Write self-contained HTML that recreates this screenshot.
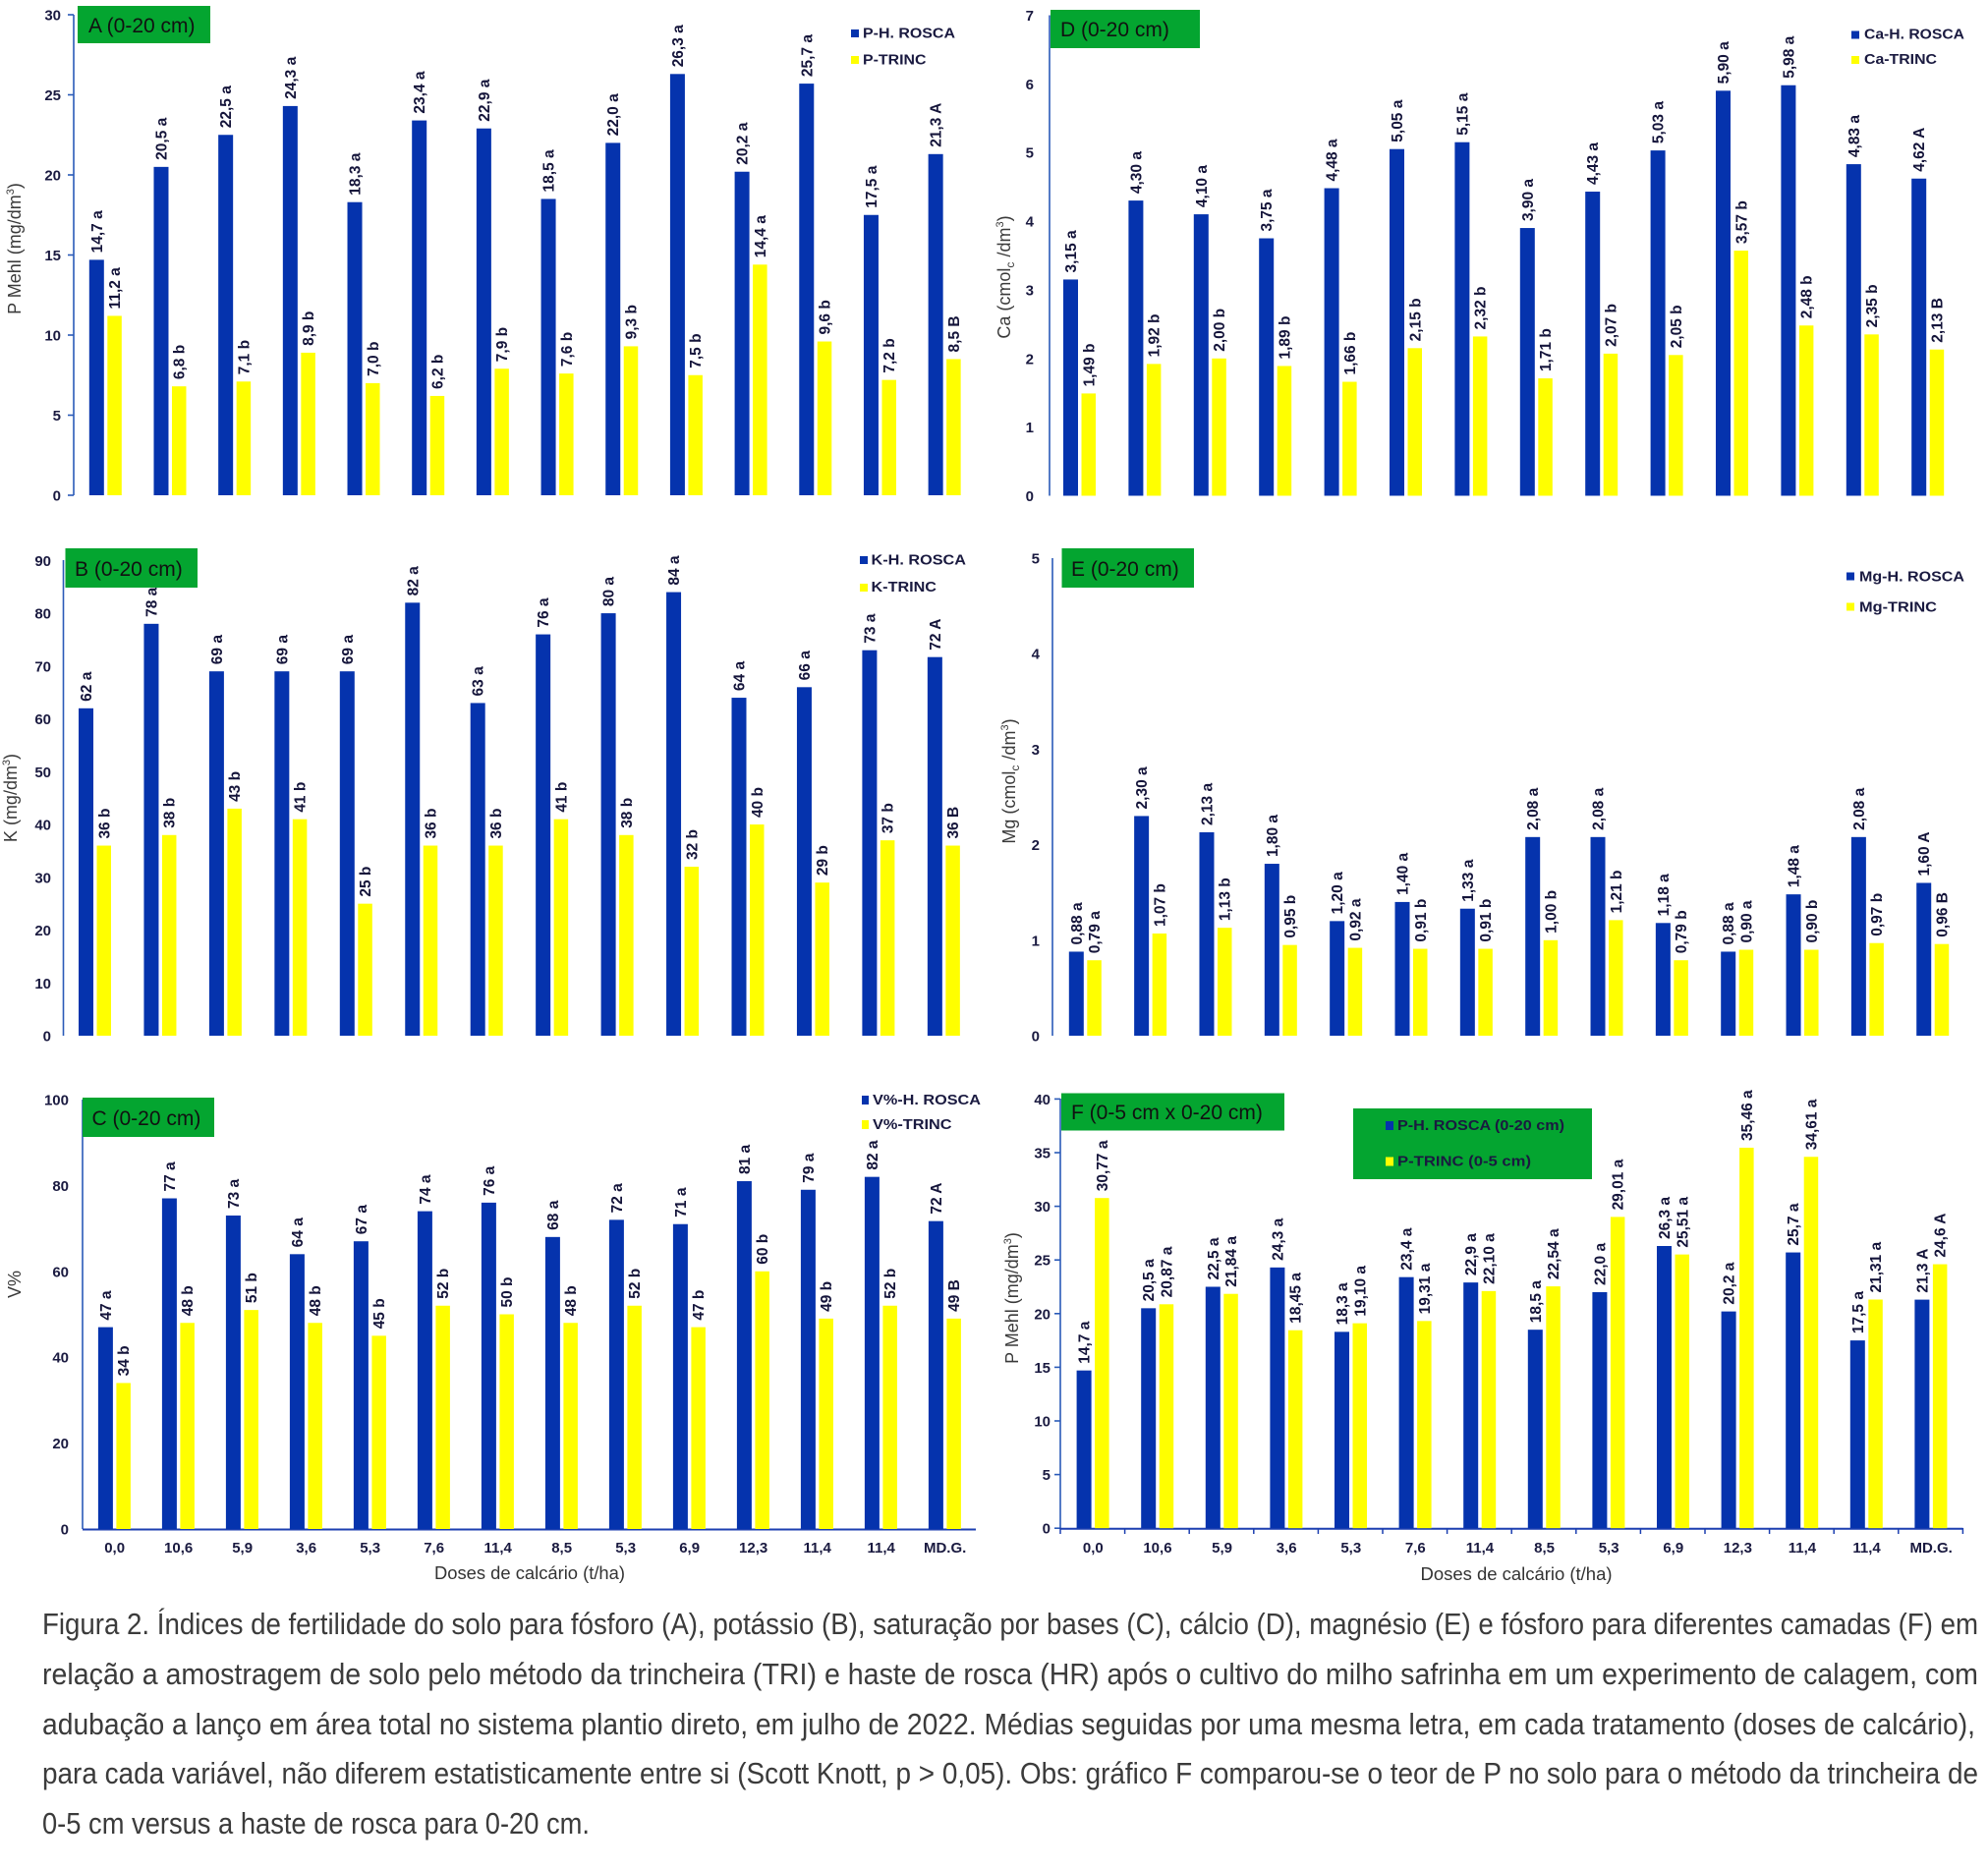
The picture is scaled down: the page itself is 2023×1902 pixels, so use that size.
<!DOCTYPE html>
<html><head><meta charset="utf-8">
<style>
html,body{margin:0;padding:0;background:#fff;}
svg{display:block;}
.b{fill:#0533ad;}
.y{fill:#ffff00;}
.v{font-family:"Liberation Sans",Arial,sans-serif;font-weight:bold;font-size:15.5px;fill:#14143a;}
.tk{font-family:"Liberation Sans",Arial,sans-serif;font-weight:bold;font-size:15px;fill:#1a1a40;text-anchor:end;}
.xl{font-family:"Liberation Sans",Arial,sans-serif;font-weight:bold;font-size:15px;fill:#1a1a40;text-anchor:middle;}
.lg{font-family:"Liberation Sans",Arial,sans-serif;font-weight:bold;font-size:14.5px;fill:#1a1a40;}
.tt{font-family:"Liberation Sans",Arial,sans-serif;font-size:21px;fill:#111;}
.yt{font-family:"Liberation Sans",Arial,sans-serif;font-size:18px;fill:#3a3a3a;text-anchor:middle;}
.at{font-family:"Liberation Sans Narrow","Liberation Sans",Arial,sans-serif;font-size:18px;fill:#333;}
.cap{font-family:"Liberation Sans Narrow","Liberation Sans",Arial,sans-serif;font-size:31px;fill:#3b3b3b;}
.ax{stroke:#2a5ab8;stroke-width:1.6;fill:none;}
.box{fill:#04a530;}
</style></head>
<body>
<svg width="2023" height="1902" viewBox="0 0 2023 1902" xmlns="http://www.w3.org/2000/svg">
<rect width="2023" height="1902" fill="#fff"/>

<!-- ================= CHART A ================= -->
<line class="ax" x1="75" y1="15" x2="75" y2="504"/>
<g class="ax"><line x1="69" y1="504" x2="75" y2="504"/><line x1="69" y1="422.5" x2="75" y2="422.5"/><line x1="69" y1="341" x2="75" y2="341"/><line x1="69" y1="259.5" x2="75" y2="259.5"/><line x1="69" y1="178" x2="75" y2="178"/><line x1="69" y1="96.5" x2="75" y2="96.5"/><line x1="69" y1="15" x2="75" y2="15"/></g>
<text class="tk" x="62" y="509.5">0</text><text class="tk" x="62" y="428">5</text><text class="tk" x="62" y="346.5">10</text><text class="tk" x="62" y="265">15</text><text class="tk" x="62" y="183.5">20</text><text class="tk" x="62" y="102">25</text><text class="tk" x="62" y="20.5">30</text>
<text class="yt" transform="translate(21,253) rotate(-90)">P Mehl (mg/dm<tspan font-size="11" dy="-7">3</tspan><tspan dy="7">)</tspan></text>
<g transform="translate(90.8,504)">
<g><g transform="scale(1,-16.3)"><rect class="b" width="15" height="14.7"/><rect class="y" x="18.5" width="14.5" height="11.2"/></g><text class="v" transform="translate(13,0) scale(1,-16.3) translate(0,14.7) scale(1,-0.06135) rotate(-90)" x="7">14,7 a</text><text class="v" transform="translate(31.25,0) scale(1,-16.3) translate(0,11.2) scale(1,-0.06135) rotate(-90)" x="7">11,2 a</text></g>
<g transform="translate(65.68,0)"><g transform="scale(1,-16.3)"><rect class="b" width="15" height="20.5"/><rect class="y" x="18.5" width="14.5" height="6.8"/></g><text class="v" transform="translate(13,0) scale(1,-16.3) translate(0,20.5) scale(1,-0.06135) rotate(-90)" x="7">20,5 a</text><text class="v" transform="translate(31.25,0) scale(1,-16.3) translate(0,6.8) scale(1,-0.06135) rotate(-90)" x="7">6,8 b</text></g>
<g transform="translate(131.36,0)"><g transform="scale(1,-16.3)"><rect class="b" width="15" height="22.5"/><rect class="y" x="18.5" width="14.5" height="7.1"/></g><text class="v" transform="translate(13,0) scale(1,-16.3) translate(0,22.5) scale(1,-0.06135) rotate(-90)" x="7">22,5 a</text><text class="v" transform="translate(31.25,0) scale(1,-16.3) translate(0,7.1) scale(1,-0.06135) rotate(-90)" x="7">7,1 b</text></g>
<g transform="translate(197.04,0)"><g transform="scale(1,-16.3)"><rect class="b" width="15" height="24.3"/><rect class="y" x="18.5" width="14.5" height="8.9"/></g><text class="v" transform="translate(13,0) scale(1,-16.3) translate(0,24.3) scale(1,-0.06135) rotate(-90)" x="7">24,3 a</text><text class="v" transform="translate(31.25,0) scale(1,-16.3) translate(0,8.9) scale(1,-0.06135) rotate(-90)" x="7">8,9 b</text></g>
<g transform="translate(262.72,0)"><g transform="scale(1,-16.3)"><rect class="b" width="15" height="18.3"/><rect class="y" x="18.5" width="14.5" height="7.0"/></g><text class="v" transform="translate(13,0) scale(1,-16.3) translate(0,18.3) scale(1,-0.06135) rotate(-90)" x="7">18,3 a</text><text class="v" transform="translate(31.25,0) scale(1,-16.3) translate(0,7.0) scale(1,-0.06135) rotate(-90)" x="7">7,0 b</text></g>
<g transform="translate(328.4,0)"><g transform="scale(1,-16.3)"><rect class="b" width="15" height="23.4"/><rect class="y" x="18.5" width="14.5" height="6.2"/></g><text class="v" transform="translate(13,0) scale(1,-16.3) translate(0,23.4) scale(1,-0.06135) rotate(-90)" x="7">23,4 a</text><text class="v" transform="translate(31.25,0) scale(1,-16.3) translate(0,6.2) scale(1,-0.06135) rotate(-90)" x="7">6,2 b</text></g>
<g transform="translate(394.08,0)"><g transform="scale(1,-16.3)"><rect class="b" width="15" height="22.9"/><rect class="y" x="18.5" width="14.5" height="7.9"/></g><text class="v" transform="translate(13,0) scale(1,-16.3) translate(0,22.9) scale(1,-0.06135) rotate(-90)" x="7">22,9 a</text><text class="v" transform="translate(31.25,0) scale(1,-16.3) translate(0,7.9) scale(1,-0.06135) rotate(-90)" x="7">7,9 b</text></g>
<g transform="translate(459.76,0)"><g transform="scale(1,-16.3)"><rect class="b" width="15" height="18.5"/><rect class="y" x="18.5" width="14.5" height="7.6"/></g><text class="v" transform="translate(13,0) scale(1,-16.3) translate(0,18.5) scale(1,-0.06135) rotate(-90)" x="7">18,5 a</text><text class="v" transform="translate(31.25,0) scale(1,-16.3) translate(0,7.6) scale(1,-0.06135) rotate(-90)" x="7">7,6 b</text></g>
<g transform="translate(525.44,0)"><g transform="scale(1,-16.3)"><rect class="b" width="15" height="22.0"/><rect class="y" x="18.5" width="14.5" height="9.3"/></g><text class="v" transform="translate(13,0) scale(1,-16.3) translate(0,22.0) scale(1,-0.06135) rotate(-90)" x="7">22,0 a</text><text class="v" transform="translate(31.25,0) scale(1,-16.3) translate(0,9.3) scale(1,-0.06135) rotate(-90)" x="7">9,3 b</text></g>
<g transform="translate(591.12,0)"><g transform="scale(1,-16.3)"><rect class="b" width="15" height="26.3"/><rect class="y" x="18.5" width="14.5" height="7.5"/></g><text class="v" transform="translate(13,0) scale(1,-16.3) translate(0,26.3) scale(1,-0.06135) rotate(-90)" x="7">26,3 a</text><text class="v" transform="translate(31.25,0) scale(1,-16.3) translate(0,7.5) scale(1,-0.06135) rotate(-90)" x="7">7,5 b</text></g>
<g transform="translate(656.8,0)"><g transform="scale(1,-16.3)"><rect class="b" width="15" height="20.2"/><rect class="y" x="18.5" width="14.5" height="14.4"/></g><text class="v" transform="translate(13,0) scale(1,-16.3) translate(0,20.2) scale(1,-0.06135) rotate(-90)" x="7">20,2 a</text><text class="v" transform="translate(31.25,0) scale(1,-16.3) translate(0,14.4) scale(1,-0.06135) rotate(-90)" x="7">14,4 a</text></g>
<g transform="translate(722.48,0)"><g transform="scale(1,-16.3)"><rect class="b" width="15" height="25.7"/><rect class="y" x="18.5" width="14.5" height="9.6"/></g><text class="v" transform="translate(13,0) scale(1,-16.3) translate(0,25.7) scale(1,-0.06135) rotate(-90)" x="7">25,7 a</text><text class="v" transform="translate(31.25,0) scale(1,-16.3) translate(0,9.6) scale(1,-0.06135) rotate(-90)" x="7">9,6 b</text></g>
<g transform="translate(788.16,0)"><g transform="scale(1,-16.3)"><rect class="b" width="15" height="17.5"/><rect class="y" x="18.5" width="14.5" height="7.2"/></g><text class="v" transform="translate(13,0) scale(1,-16.3) translate(0,17.5) scale(1,-0.06135) rotate(-90)" x="7">17,5 a</text><text class="v" transform="translate(31.25,0) scale(1,-16.3) translate(0,7.2) scale(1,-0.06135) rotate(-90)" x="7">7,2 b</text></g>
<g transform="translate(853.84,0)"><g transform="scale(1,-16.3)"><rect class="b" width="15" height="21.3"/><rect class="y" x="18.5" width="14.5" height="8.5"/></g><text class="v" transform="translate(13,0) scale(1,-16.3) translate(0,21.3) scale(1,-0.06135) rotate(-90)" x="7">21,3 A</text><text class="v" transform="translate(31.25,0) scale(1,-16.3) translate(0,8.5) scale(1,-0.06135) rotate(-90)" x="7">8,5 B</text></g>
</g>
<rect class="box" x="79" y="6" width="135" height="38"/>
<text class="tt" x="90" y="33">A (0-20 cm)</text>
<rect class="b" x="866" y="30" width="8" height="8"/><text class="lg" x="878" y="38.5" textLength="94" lengthAdjust="spacingAndGlyphs">P-H. ROSCA</text>
<rect class="y" x="866" y="57" width="8" height="8"/><text class="lg" x="878" y="65.5" textLength="64.5" lengthAdjust="spacingAndGlyphs">P-TRINC</text>

<!-- ================= CHART D ================= -->
<line class="ax" x1="1068" y1="15.5" x2="1068" y2="504.5"/>
<text class="tk" x="1052" y="510">0</text><text class="tk" x="1052" y="440.1">1</text><text class="tk" x="1052" y="370.3">2</text><text class="tk" x="1052" y="300.4">3</text><text class="tk" x="1052" y="230.6">4</text><text class="tk" x="1052" y="160.7">5</text><text class="tk" x="1052" y="90.8">6</text><text class="tk" x="1052" y="21">7</text>
<text class="yt" transform="translate(1028,282) rotate(-90)">Ca (cmol<tspan font-size="12" dy="4">c</tspan><tspan dy="-4"> /dm</tspan><tspan font-size="11" dy="-7">3</tspan><tspan dy="7">)</tspan></text>
<g transform="translate(1082,504.5)">
<g><g transform="scale(1,-69.86)"><rect class="b" width="15" height="3.15"/><rect class="y" x="18.5" width="14.5" height="1.49"/></g><text class="v" transform="translate(13,0) scale(1,-69.86) translate(0,3.15) scale(1,-0.014314) rotate(-90)" x="7">3,15 a</text><text class="v" transform="translate(31.25,0) scale(1,-69.86) translate(0,1.49) scale(1,-0.014314) rotate(-90)" x="7">1,49 b</text></g>
<g transform="translate(66.4,0)"><g transform="scale(1,-69.86)"><rect class="b" width="15" height="4.30"/><rect class="y" x="18.5" width="14.5" height="1.92"/></g><text class="v" transform="translate(13,0) scale(1,-69.86) translate(0,4.30) scale(1,-0.014314) rotate(-90)" x="7">4,30 a</text><text class="v" transform="translate(31.25,0) scale(1,-69.86) translate(0,1.92) scale(1,-0.014314) rotate(-90)" x="7">1,92 b</text></g>
<g transform="translate(132.8,0)"><g transform="scale(1,-69.86)"><rect class="b" width="15" height="4.10"/><rect class="y" x="18.5" width="14.5" height="2.00"/></g><text class="v" transform="translate(13,0) scale(1,-69.86) translate(0,4.10) scale(1,-0.014314) rotate(-90)" x="7">4,10 a</text><text class="v" transform="translate(31.25,0) scale(1,-69.86) translate(0,2.00) scale(1,-0.014314) rotate(-90)" x="7">2,00 b</text></g>
<g transform="translate(199.2,0)"><g transform="scale(1,-69.86)"><rect class="b" width="15" height="3.75"/><rect class="y" x="18.5" width="14.5" height="1.89"/></g><text class="v" transform="translate(13,0) scale(1,-69.86) translate(0,3.75) scale(1,-0.014314) rotate(-90)" x="7">3,75 a</text><text class="v" transform="translate(31.25,0) scale(1,-69.86) translate(0,1.89) scale(1,-0.014314) rotate(-90)" x="7">1,89 b</text></g>
<g transform="translate(265.6,0)"><g transform="scale(1,-69.86)"><rect class="b" width="15" height="4.48"/><rect class="y" x="18.5" width="14.5" height="1.66"/></g><text class="v" transform="translate(13,0) scale(1,-69.86) translate(0,4.48) scale(1,-0.014314) rotate(-90)" x="7">4,48 a</text><text class="v" transform="translate(31.25,0) scale(1,-69.86) translate(0,1.66) scale(1,-0.014314) rotate(-90)" x="7">1,66 b</text></g>
<g transform="translate(332,0)"><g transform="scale(1,-69.86)"><rect class="b" width="15" height="5.05"/><rect class="y" x="18.5" width="14.5" height="2.15"/></g><text class="v" transform="translate(13,0) scale(1,-69.86) translate(0,5.05) scale(1,-0.014314) rotate(-90)" x="7">5,05 a</text><text class="v" transform="translate(31.25,0) scale(1,-69.86) translate(0,2.15) scale(1,-0.014314) rotate(-90)" x="7">2,15 b</text></g>
<g transform="translate(398.4,0)"><g transform="scale(1,-69.86)"><rect class="b" width="15" height="5.15"/><rect class="y" x="18.5" width="14.5" height="2.32"/></g><text class="v" transform="translate(13,0) scale(1,-69.86) translate(0,5.15) scale(1,-0.014314) rotate(-90)" x="7">5,15 a</text><text class="v" transform="translate(31.25,0) scale(1,-69.86) translate(0,2.32) scale(1,-0.014314) rotate(-90)" x="7">2,32 b</text></g>
<g transform="translate(464.8,0)"><g transform="scale(1,-69.86)"><rect class="b" width="15" height="3.90"/><rect class="y" x="18.5" width="14.5" height="1.71"/></g><text class="v" transform="translate(13,0) scale(1,-69.86) translate(0,3.90) scale(1,-0.014314) rotate(-90)" x="7">3,90 a</text><text class="v" transform="translate(31.25,0) scale(1,-69.86) translate(0,1.71) scale(1,-0.014314) rotate(-90)" x="7">1,71 b</text></g>
<g transform="translate(531.2,0)"><g transform="scale(1,-69.86)"><rect class="b" width="15" height="4.43"/><rect class="y" x="18.5" width="14.5" height="2.07"/></g><text class="v" transform="translate(13,0) scale(1,-69.86) translate(0,4.43) scale(1,-0.014314) rotate(-90)" x="7">4,43 a</text><text class="v" transform="translate(31.25,0) scale(1,-69.86) translate(0,2.07) scale(1,-0.014314) rotate(-90)" x="7">2,07 b</text></g>
<g transform="translate(597.6,0)"><g transform="scale(1,-69.86)"><rect class="b" width="15" height="5.03"/><rect class="y" x="18.5" width="14.5" height="2.05"/></g><text class="v" transform="translate(13,0) scale(1,-69.86) translate(0,5.03) scale(1,-0.014314) rotate(-90)" x="7">5,03 a</text><text class="v" transform="translate(31.25,0) scale(1,-69.86) translate(0,2.05) scale(1,-0.014314) rotate(-90)" x="7">2,05 b</text></g>
<g transform="translate(664,0)"><g transform="scale(1,-69.86)"><rect class="b" width="15" height="5.90"/><rect class="y" x="18.5" width="14.5" height="3.57"/></g><text class="v" transform="translate(13,0) scale(1,-69.86) translate(0,5.90) scale(1,-0.014314) rotate(-90)" x="7">5,90 a</text><text class="v" transform="translate(31.25,0) scale(1,-69.86) translate(0,3.57) scale(1,-0.014314) rotate(-90)" x="7">3,57 b</text></g>
<g transform="translate(730.4,0)"><g transform="scale(1,-69.86)"><rect class="b" width="15" height="5.98"/><rect class="y" x="18.5" width="14.5" height="2.48"/></g><text class="v" transform="translate(13,0) scale(1,-69.86) translate(0,5.98) scale(1,-0.014314) rotate(-90)" x="7">5,98 a</text><text class="v" transform="translate(31.25,0) scale(1,-69.86) translate(0,2.48) scale(1,-0.014314) rotate(-90)" x="7">2,48 b</text></g>
<g transform="translate(796.8,0)"><g transform="scale(1,-69.86)"><rect class="b" width="15" height="4.83"/><rect class="y" x="18.5" width="14.5" height="2.35"/></g><text class="v" transform="translate(13,0) scale(1,-69.86) translate(0,4.83) scale(1,-0.014314) rotate(-90)" x="7">4,83 a</text><text class="v" transform="translate(31.25,0) scale(1,-69.86) translate(0,2.35) scale(1,-0.014314) rotate(-90)" x="7">2,35 b</text></g>
<g transform="translate(863.2,0)"><g transform="scale(1,-69.86)"><rect class="b" width="15" height="4.62"/><rect class="y" x="18.5" width="14.5" height="2.13"/></g><text class="v" transform="translate(13,0) scale(1,-69.86) translate(0,4.62) scale(1,-0.014314) rotate(-90)" x="7">4,62 A</text><text class="v" transform="translate(31.25,0) scale(1,-69.86) translate(0,2.13) scale(1,-0.014314) rotate(-90)" x="7">2,13 B</text></g>
</g>
<rect class="box" x="1069" y="10" width="152" height="39"/>
<text class="tt" x="1079" y="37">D (0-20 cm)</text>
<rect class="b" x="1884" y="31.5" width="8" height="8"/><text class="lg" x="1897" y="39.5" textLength="102" lengthAdjust="spacingAndGlyphs">Ca-H. ROSCA</text>
<rect class="y" x="1884" y="57" width="8" height="8"/><text class="lg" x="1897" y="65" textLength="74" lengthAdjust="spacingAndGlyphs">Ca-TRINC</text>

<!-- ================= CHART B ================= -->
<line class="ax" x1="64.5" y1="570" x2="64.5" y2="1054"/>
<text class="tk" x="52" y="1059.5">0</text><text class="tk" x="52" y="1005.8">10</text><text class="tk" x="52" y="952">20</text><text class="tk" x="52" y="898.3">30</text><text class="tk" x="52" y="844.5">40</text><text class="tk" x="52" y="790.8">50</text><text class="tk" x="52" y="737.1">60</text><text class="tk" x="52" y="683.3">70</text><text class="tk" x="52" y="629.6">80</text><text class="tk" x="52" y="575.8">90</text>
<text class="yt" transform="translate(17,812) rotate(-90)">K (mg/dm<tspan font-size="11" dy="-7">3</tspan><tspan dy="7">)</tspan></text>
<g transform="translate(80,1054)">
<g><g transform="scale(1,-5.374)"><rect class="b" width="15" height="62"/><rect class="y" x="18.5" width="14.5" height="36"/></g><text class="v" transform="translate(13,0) scale(1,-5.374) translate(0,62) scale(1,-0.186081) rotate(-90)" x="7">62 a</text><text class="v" transform="translate(31.25,0) scale(1,-5.374) translate(0,36) scale(1,-0.186081) rotate(-90)" x="7">36 b</text></g>
<g transform="translate(66.45,0)"><g transform="scale(1,-5.374)"><rect class="b" width="15" height="78"/><rect class="y" x="18.5" width="14.5" height="38"/></g><text class="v" transform="translate(13,0) scale(1,-5.374) translate(0,78) scale(1,-0.186081) rotate(-90)" x="7">78 a</text><text class="v" transform="translate(31.25,0) scale(1,-5.374) translate(0,38) scale(1,-0.186081) rotate(-90)" x="7">38 b</text></g>
<g transform="translate(132.9,0)"><g transform="scale(1,-5.374)"><rect class="b" width="15" height="69"/><rect class="y" x="18.5" width="14.5" height="43"/></g><text class="v" transform="translate(13,0) scale(1,-5.374) translate(0,69) scale(1,-0.186081) rotate(-90)" x="7">69 a</text><text class="v" transform="translate(31.25,0) scale(1,-5.374) translate(0,43) scale(1,-0.186081) rotate(-90)" x="7">43 b</text></g>
<g transform="translate(199.35,0)"><g transform="scale(1,-5.374)"><rect class="b" width="15" height="69"/><rect class="y" x="18.5" width="14.5" height="41"/></g><text class="v" transform="translate(13,0) scale(1,-5.374) translate(0,69) scale(1,-0.186081) rotate(-90)" x="7">69 a</text><text class="v" transform="translate(31.25,0) scale(1,-5.374) translate(0,41) scale(1,-0.186081) rotate(-90)" x="7">41 b</text></g>
<g transform="translate(265.8,0)"><g transform="scale(1,-5.374)"><rect class="b" width="15" height="69"/><rect class="y" x="18.5" width="14.5" height="25"/></g><text class="v" transform="translate(13,0) scale(1,-5.374) translate(0,69) scale(1,-0.186081) rotate(-90)" x="7">69 a</text><text class="v" transform="translate(31.25,0) scale(1,-5.374) translate(0,25) scale(1,-0.186081) rotate(-90)" x="7">25 b</text></g>
<g transform="translate(332.25,0)"><g transform="scale(1,-5.374)"><rect class="b" width="15" height="82"/><rect class="y" x="18.5" width="14.5" height="36"/></g><text class="v" transform="translate(13,0) scale(1,-5.374) translate(0,82) scale(1,-0.186081) rotate(-90)" x="7">82 a</text><text class="v" transform="translate(31.25,0) scale(1,-5.374) translate(0,36) scale(1,-0.186081) rotate(-90)" x="7">36 b</text></g>
<g transform="translate(398.7,0)"><g transform="scale(1,-5.374)"><rect class="b" width="15" height="63"/><rect class="y" x="18.5" width="14.5" height="36"/></g><text class="v" transform="translate(13,0) scale(1,-5.374) translate(0,63) scale(1,-0.186081) rotate(-90)" x="7">63 a</text><text class="v" transform="translate(31.25,0) scale(1,-5.374) translate(0,36) scale(1,-0.186081) rotate(-90)" x="7">36 b</text></g>
<g transform="translate(465.15,0)"><g transform="scale(1,-5.374)"><rect class="b" width="15" height="76"/><rect class="y" x="18.5" width="14.5" height="41"/></g><text class="v" transform="translate(13,0) scale(1,-5.374) translate(0,76) scale(1,-0.186081) rotate(-90)" x="7">76 a</text><text class="v" transform="translate(31.25,0) scale(1,-5.374) translate(0,41) scale(1,-0.186081) rotate(-90)" x="7">41 b</text></g>
<g transform="translate(531.6,0)"><g transform="scale(1,-5.374)"><rect class="b" width="15" height="80"/><rect class="y" x="18.5" width="14.5" height="38"/></g><text class="v" transform="translate(13,0) scale(1,-5.374) translate(0,80) scale(1,-0.186081) rotate(-90)" x="7">80 a</text><text class="v" transform="translate(31.25,0) scale(1,-5.374) translate(0,38) scale(1,-0.186081) rotate(-90)" x="7">38 b</text></g>
<g transform="translate(598.05,0)"><g transform="scale(1,-5.374)"><rect class="b" width="15" height="84"/><rect class="y" x="18.5" width="14.5" height="32"/></g><text class="v" transform="translate(13,0) scale(1,-5.374) translate(0,84) scale(1,-0.186081) rotate(-90)" x="7">84 a</text><text class="v" transform="translate(31.25,0) scale(1,-5.374) translate(0,32) scale(1,-0.186081) rotate(-90)" x="7">32 b</text></g>
<g transform="translate(664.5,0)"><g transform="scale(1,-5.374)"><rect class="b" width="15" height="64"/><rect class="y" x="18.5" width="14.5" height="40"/></g><text class="v" transform="translate(13,0) scale(1,-5.374) translate(0,64) scale(1,-0.186081) rotate(-90)" x="7">64 a</text><text class="v" transform="translate(31.25,0) scale(1,-5.374) translate(0,40) scale(1,-0.186081) rotate(-90)" x="7">40 b</text></g>
<g transform="translate(730.95,0)"><g transform="scale(1,-5.374)"><rect class="b" width="15" height="66"/><rect class="y" x="18.5" width="14.5" height="29"/></g><text class="v" transform="translate(13,0) scale(1,-5.374) translate(0,66) scale(1,-0.186081) rotate(-90)" x="7">66 a</text><text class="v" transform="translate(31.25,0) scale(1,-5.374) translate(0,29) scale(1,-0.186081) rotate(-90)" x="7">29 b</text></g>
<g transform="translate(797.4,0)"><g transform="scale(1,-5.374)"><rect class="b" width="15" height="73"/><rect class="y" x="18.5" width="14.5" height="37"/></g><text class="v" transform="translate(13,0) scale(1,-5.374) translate(0,73) scale(1,-0.186081) rotate(-90)" x="7">73 a</text><text class="v" transform="translate(31.25,0) scale(1,-5.374) translate(0,37) scale(1,-0.186081) rotate(-90)" x="7">37 b</text></g>
<g transform="translate(863.85,0)"><g transform="scale(1,-5.374)"><rect class="b" width="15" height="71.7"/><rect class="y" x="18.5" width="14.5" height="36"/></g><text class="v" transform="translate(13,0) scale(1,-5.374) translate(0,71.7) scale(1,-0.186081) rotate(-90)" x="7">72 A</text><text class="v" transform="translate(31.25,0) scale(1,-5.374) translate(0,36) scale(1,-0.186081) rotate(-90)" x="7">36 B</text></g>
</g>
<rect class="box" x="66.5" y="558" width="134.5" height="40"/>
<text class="tt" x="76" y="586">B (0-20 cm)</text>
<rect class="b" x="875" y="566" width="8" height="8"/><text class="lg" x="886.5" y="574.5" textLength="96.5" lengthAdjust="spacingAndGlyphs">K-H. ROSCA</text>
<rect class="y" x="875" y="594" width="8" height="8"/><text class="lg" x="886.5" y="602" textLength="66.5" lengthAdjust="spacingAndGlyphs">K-TRINC</text>

<!-- ================= CHART E ================= -->
<line class="ax" x1="1071" y1="568" x2="1071" y2="1054"/>
<text class="tk" x="1058" y="1059.5">0</text><text class="tk" x="1058" y="962.3">1</text><text class="tk" x="1058" y="865.1">2</text><text class="tk" x="1058" y="767.9">3</text><text class="tk" x="1058" y="670.7">4</text><text class="tk" x="1058" y="573.5">5</text>
<text class="yt" transform="translate(1033,795) rotate(-90)">Mg (cmol<tspan font-size="12" dy="4">c</tspan><tspan dy="-4"> /dm</tspan><tspan font-size="11" dy="-7">3</tspan><tspan dy="7">)</tspan></text>
<g transform="translate(1087.8,1054)">
<g><g transform="scale(1,-97.2)"><rect class="b" width="15" height="0.88"/><rect class="y" x="18.5" width="14.5" height="0.79"/></g><text class="v" transform="translate(13,0) scale(1,-97.2) translate(0,0.88) scale(1,-0.010288) rotate(-90)" x="7">0,88 a</text><text class="v" transform="translate(31.25,0) scale(1,-97.2) translate(0,0.79) scale(1,-0.010288) rotate(-90)" x="7">0,79 a</text></g>
<g transform="translate(66.34,0)"><g transform="scale(1,-97.2)"><rect class="b" width="15" height="2.30"/><rect class="y" x="18.5" width="14.5" height="1.07"/></g><text class="v" transform="translate(13,0) scale(1,-97.2) translate(0,2.30) scale(1,-0.010288) rotate(-90)" x="7">2,30 a</text><text class="v" transform="translate(31.25,0) scale(1,-97.2) translate(0,1.07) scale(1,-0.010288) rotate(-90)" x="7">1,07 b</text></g>
<g transform="translate(132.68,0)"><g transform="scale(1,-97.2)"><rect class="b" width="15" height="2.13"/><rect class="y" x="18.5" width="14.5" height="1.13"/></g><text class="v" transform="translate(13,0) scale(1,-97.2) translate(0,2.13) scale(1,-0.010288) rotate(-90)" x="7">2,13 a</text><text class="v" transform="translate(31.25,0) scale(1,-97.2) translate(0,1.13) scale(1,-0.010288) rotate(-90)" x="7">1,13 b</text></g>
<g transform="translate(199.02,0)"><g transform="scale(1,-97.2)"><rect class="b" width="15" height="1.80"/><rect class="y" x="18.5" width="14.5" height="0.95"/></g><text class="v" transform="translate(13,0) scale(1,-97.2) translate(0,1.80) scale(1,-0.010288) rotate(-90)" x="7">1,80 a</text><text class="v" transform="translate(31.25,0) scale(1,-97.2) translate(0,0.95) scale(1,-0.010288) rotate(-90)" x="7">0,95 b</text></g>
<g transform="translate(265.36,0)"><g transform="scale(1,-97.2)"><rect class="b" width="15" height="1.20"/><rect class="y" x="18.5" width="14.5" height="0.92"/></g><text class="v" transform="translate(13,0) scale(1,-97.2) translate(0,1.20) scale(1,-0.010288) rotate(-90)" x="7">1,20 a</text><text class="v" transform="translate(31.25,0) scale(1,-97.2) translate(0,0.92) scale(1,-0.010288) rotate(-90)" x="7">0,92 a</text></g>
<g transform="translate(331.7,0)"><g transform="scale(1,-97.2)"><rect class="b" width="15" height="1.40"/><rect class="y" x="18.5" width="14.5" height="0.91"/></g><text class="v" transform="translate(13,0) scale(1,-97.2) translate(0,1.40) scale(1,-0.010288) rotate(-90)" x="7">1,40 a</text><text class="v" transform="translate(31.25,0) scale(1,-97.2) translate(0,0.91) scale(1,-0.010288) rotate(-90)" x="7">0,91 b</text></g>
<g transform="translate(398.04,0)"><g transform="scale(1,-97.2)"><rect class="b" width="15" height="1.33"/><rect class="y" x="18.5" width="14.5" height="0.91"/></g><text class="v" transform="translate(13,0) scale(1,-97.2) translate(0,1.33) scale(1,-0.010288) rotate(-90)" x="7">1,33 a</text><text class="v" transform="translate(31.25,0) scale(1,-97.2) translate(0,0.91) scale(1,-0.010288) rotate(-90)" x="7">0,91 b</text></g>
<g transform="translate(464.38,0)"><g transform="scale(1,-97.2)"><rect class="b" width="15" height="2.08"/><rect class="y" x="18.5" width="14.5" height="1.00"/></g><text class="v" transform="translate(13,0) scale(1,-97.2) translate(0,2.08) scale(1,-0.010288) rotate(-90)" x="7">2,08 a</text><text class="v" transform="translate(31.25,0) scale(1,-97.2) translate(0,1.00) scale(1,-0.010288) rotate(-90)" x="7">1,00 b</text></g>
<g transform="translate(530.72,0)"><g transform="scale(1,-97.2)"><rect class="b" width="15" height="2.08"/><rect class="y" x="18.5" width="14.5" height="1.21"/></g><text class="v" transform="translate(13,0) scale(1,-97.2) translate(0,2.08) scale(1,-0.010288) rotate(-90)" x="7">2,08 a</text><text class="v" transform="translate(31.25,0) scale(1,-97.2) translate(0,1.21) scale(1,-0.010288) rotate(-90)" x="7">1,21 b</text></g>
<g transform="translate(597.06,0)"><g transform="scale(1,-97.2)"><rect class="b" width="15" height="1.18"/><rect class="y" x="18.5" width="14.5" height="0.79"/></g><text class="v" transform="translate(13,0) scale(1,-97.2) translate(0,1.18) scale(1,-0.010288) rotate(-90)" x="7">1,18 a</text><text class="v" transform="translate(31.25,0) scale(1,-97.2) translate(0,0.79) scale(1,-0.010288) rotate(-90)" x="7">0,79 b</text></g>
<g transform="translate(663.4,0)"><g transform="scale(1,-97.2)"><rect class="b" width="15" height="0.88"/><rect class="y" x="18.5" width="14.5" height="0.90"/></g><text class="v" transform="translate(13,0) scale(1,-97.2) translate(0,0.88) scale(1,-0.010288) rotate(-90)" x="7">0,88 a</text><text class="v" transform="translate(31.25,0) scale(1,-97.2) translate(0,0.90) scale(1,-0.010288) rotate(-90)" x="7">0,90 a</text></g>
<g transform="translate(729.74,0)"><g transform="scale(1,-97.2)"><rect class="b" width="15" height="1.48"/><rect class="y" x="18.5" width="14.5" height="0.90"/></g><text class="v" transform="translate(13,0) scale(1,-97.2) translate(0,1.48) scale(1,-0.010288) rotate(-90)" x="7">1,48 a</text><text class="v" transform="translate(31.25,0) scale(1,-97.2) translate(0,0.90) scale(1,-0.010288) rotate(-90)" x="7">0,90 b</text></g>
<g transform="translate(796.08,0)"><g transform="scale(1,-97.2)"><rect class="b" width="15" height="2.08"/><rect class="y" x="18.5" width="14.5" height="0.97"/></g><text class="v" transform="translate(13,0) scale(1,-97.2) translate(0,2.08) scale(1,-0.010288) rotate(-90)" x="7">2,08 a</text><text class="v" transform="translate(31.25,0) scale(1,-97.2) translate(0,0.97) scale(1,-0.010288) rotate(-90)" x="7">0,97 b</text></g>
<g transform="translate(862.42,0)"><g transform="scale(1,-97.2)"><rect class="b" width="15" height="1.60"/><rect class="y" x="18.5" width="14.5" height="0.96"/></g><text class="v" transform="translate(13,0) scale(1,-97.2) translate(0,1.60) scale(1,-0.010288) rotate(-90)" x="7">1,60 A</text><text class="v" transform="translate(31.25,0) scale(1,-97.2) translate(0,0.96) scale(1,-0.010288) rotate(-90)" x="7">0,96 B</text></g>
</g>
<rect class="box" x="1080.5" y="558" width="134.5" height="40"/>
<text class="tt" x="1090" y="586">E (0-20 cm)</text>
<rect class="b" x="1879" y="582.5" width="8" height="8"/><text class="lg" x="1892" y="591.5" textLength="107" lengthAdjust="spacingAndGlyphs">Mg-H. ROSCA</text>
<rect class="y" x="1879" y="613.5" width="8" height="8"/><text class="lg" x="1892" y="622.5" textLength="79" lengthAdjust="spacingAndGlyphs">Mg-TRINC</text>

<!-- ================= CHART C ================= -->
<line class="ax" x1="84" y1="1119" x2="84" y2="1556"/>
<line x1="84" y1="1556.5" x2="993" y2="1556.5" stroke="#1c3fb0" stroke-width="2"/>
<text class="tk" x="70" y="1561.5">0</text><text class="tk" x="70" y="1474.1">20</text><text class="tk" x="70" y="1386.7">40</text><text class="tk" x="70" y="1299.3">60</text><text class="tk" x="70" y="1211.9">80</text><text class="tk" x="70" y="1124.5">100</text>
<text class="yt" transform="translate(21,1307) rotate(-90)">V%</text>
<g transform="translate(99.9,1556)">
<g><g transform="scale(1,-4.37)"><rect class="b" width="15" height="47"/><rect class="y" x="18.5" width="14.5" height="34"/></g><text class="v" transform="translate(13,0) scale(1,-4.37) translate(0,47) scale(1,-0.228833) rotate(-90)" x="7">47 a</text><text class="v" transform="translate(31.25,0) scale(1,-4.37) translate(0,34) scale(1,-0.228833) rotate(-90)" x="7">34 b</text><text class="xl" x="16.75" y="24">0,0</text></g>
<g transform="translate(65,0)"><g transform="scale(1,-4.37)"><rect class="b" width="15" height="77"/><rect class="y" x="18.5" width="14.5" height="48"/></g><text class="v" transform="translate(13,0) scale(1,-4.37) translate(0,77) scale(1,-0.228833) rotate(-90)" x="7">77 a</text><text class="v" transform="translate(31.25,0) scale(1,-4.37) translate(0,48) scale(1,-0.228833) rotate(-90)" x="7">48 b</text><text class="xl" x="16.75" y="24">10,6</text></g>
<g transform="translate(130,0)"><g transform="scale(1,-4.37)"><rect class="b" width="15" height="73"/><rect class="y" x="18.5" width="14.5" height="51"/></g><text class="v" transform="translate(13,0) scale(1,-4.37) translate(0,73) scale(1,-0.228833) rotate(-90)" x="7">73 a</text><text class="v" transform="translate(31.25,0) scale(1,-4.37) translate(0,51) scale(1,-0.228833) rotate(-90)" x="7">51 b</text><text class="xl" x="16.75" y="24">5,9</text></g>
<g transform="translate(195,0)"><g transform="scale(1,-4.37)"><rect class="b" width="15" height="64"/><rect class="y" x="18.5" width="14.5" height="48"/></g><text class="v" transform="translate(13,0) scale(1,-4.37) translate(0,64) scale(1,-0.228833) rotate(-90)" x="7">64 a</text><text class="v" transform="translate(31.25,0) scale(1,-4.37) translate(0,48) scale(1,-0.228833) rotate(-90)" x="7">48 b</text><text class="xl" x="16.75" y="24">3,6</text></g>
<g transform="translate(260,0)"><g transform="scale(1,-4.37)"><rect class="b" width="15" height="67"/><rect class="y" x="18.5" width="14.5" height="45"/></g><text class="v" transform="translate(13,0) scale(1,-4.37) translate(0,67) scale(1,-0.228833) rotate(-90)" x="7">67 a</text><text class="v" transform="translate(31.25,0) scale(1,-4.37) translate(0,45) scale(1,-0.228833) rotate(-90)" x="7">45 b</text><text class="xl" x="16.75" y="24">5,3</text></g>
<g transform="translate(325,0)"><g transform="scale(1,-4.37)"><rect class="b" width="15" height="74"/><rect class="y" x="18.5" width="14.5" height="52"/></g><text class="v" transform="translate(13,0) scale(1,-4.37) translate(0,74) scale(1,-0.228833) rotate(-90)" x="7">74 a</text><text class="v" transform="translate(31.25,0) scale(1,-4.37) translate(0,52) scale(1,-0.228833) rotate(-90)" x="7">52 b</text><text class="xl" x="16.75" y="24">7,6</text></g>
<g transform="translate(390,0)"><g transform="scale(1,-4.37)"><rect class="b" width="15" height="76"/><rect class="y" x="18.5" width="14.5" height="50"/></g><text class="v" transform="translate(13,0) scale(1,-4.37) translate(0,76) scale(1,-0.228833) rotate(-90)" x="7">76 a</text><text class="v" transform="translate(31.25,0) scale(1,-4.37) translate(0,50) scale(1,-0.228833) rotate(-90)" x="7">50 b</text><text class="xl" x="16.75" y="24">11,4</text></g>
<g transform="translate(455,0)"><g transform="scale(1,-4.37)"><rect class="b" width="15" height="68"/><rect class="y" x="18.5" width="14.5" height="48"/></g><text class="v" transform="translate(13,0) scale(1,-4.37) translate(0,68) scale(1,-0.228833) rotate(-90)" x="7">68 a</text><text class="v" transform="translate(31.25,0) scale(1,-4.37) translate(0,48) scale(1,-0.228833) rotate(-90)" x="7">48 b</text><text class="xl" x="16.75" y="24">8,5</text></g>
<g transform="translate(520,0)"><g transform="scale(1,-4.37)"><rect class="b" width="15" height="72"/><rect class="y" x="18.5" width="14.5" height="52"/></g><text class="v" transform="translate(13,0) scale(1,-4.37) translate(0,72) scale(1,-0.228833) rotate(-90)" x="7">72 a</text><text class="v" transform="translate(31.25,0) scale(1,-4.37) translate(0,52) scale(1,-0.228833) rotate(-90)" x="7">52 b</text><text class="xl" x="16.75" y="24">5,3</text></g>
<g transform="translate(585,0)"><g transform="scale(1,-4.37)"><rect class="b" width="15" height="71"/><rect class="y" x="18.5" width="14.5" height="47"/></g><text class="v" transform="translate(13,0) scale(1,-4.37) translate(0,71) scale(1,-0.228833) rotate(-90)" x="7">71 a</text><text class="v" transform="translate(31.25,0) scale(1,-4.37) translate(0,47) scale(1,-0.228833) rotate(-90)" x="7">47 b</text><text class="xl" x="16.75" y="24">6,9</text></g>
<g transform="translate(650,0)"><g transform="scale(1,-4.37)"><rect class="b" width="15" height="81"/><rect class="y" x="18.5" width="14.5" height="60"/></g><text class="v" transform="translate(13,0) scale(1,-4.37) translate(0,81) scale(1,-0.228833) rotate(-90)" x="7">81 a</text><text class="v" transform="translate(31.25,0) scale(1,-4.37) translate(0,60) scale(1,-0.228833) rotate(-90)" x="7">60 b</text><text class="xl" x="16.75" y="24">12,3</text></g>
<g transform="translate(715,0)"><g transform="scale(1,-4.37)"><rect class="b" width="15" height="79"/><rect class="y" x="18.5" width="14.5" height="49"/></g><text class="v" transform="translate(13,0) scale(1,-4.37) translate(0,79) scale(1,-0.228833) rotate(-90)" x="7">79 a</text><text class="v" transform="translate(31.25,0) scale(1,-4.37) translate(0,49) scale(1,-0.228833) rotate(-90)" x="7">49 b</text><text class="xl" x="16.75" y="24">11,4</text></g>
<g transform="translate(780,0)"><g transform="scale(1,-4.37)"><rect class="b" width="15" height="82"/><rect class="y" x="18.5" width="14.5" height="52"/></g><text class="v" transform="translate(13,0) scale(1,-4.37) translate(0,82) scale(1,-0.228833) rotate(-90)" x="7">82 a</text><text class="v" transform="translate(31.25,0) scale(1,-4.37) translate(0,52) scale(1,-0.228833) rotate(-90)" x="7">52 b</text><text class="xl" x="16.75" y="24">11,4</text></g>
<g transform="translate(845,0)"><g transform="scale(1,-4.37)"><rect class="b" width="15" height="71.7"/><rect class="y" x="18.5" width="14.5" height="49"/></g><text class="v" transform="translate(13,0) scale(1,-4.37) translate(0,71.7) scale(1,-0.228833) rotate(-90)" x="7">72 A</text><text class="v" transform="translate(31.25,0) scale(1,-4.37) translate(0,49) scale(1,-0.228833) rotate(-90)" x="7">49 B</text><text class="xl" x="16.75" y="24">MD.G.</text></g>
</g>
<text class="at" x="442" y="1607" textLength="194" lengthAdjust="spacingAndGlyphs">Doses de calcário (t/ha)</text>
<rect class="box" x="84" y="1117" width="134" height="40"/>
<text class="tt" x="93.5" y="1145">C (0-20 cm)</text>
<rect class="b" x="877" y="1115" width="7" height="9"/><text class="lg" x="888" y="1124" textLength="110" lengthAdjust="spacingAndGlyphs">V%-H. ROSCA</text>
<rect class="y" x="877" y="1140" width="7" height="9"/><text class="lg" x="888" y="1149" textLength="80.5" lengthAdjust="spacingAndGlyphs">V%-TRINC</text>

<!-- ================= CHART F ================= -->
<line class="ax" x1="1079" y1="1118" x2="1079" y2="1555.2"/>
<g class="ax"><line x1="1073" y1="1555.2" x2="1079" y2="1555.2"/><line x1="1073" y1="1500.6" x2="1079" y2="1500.6"/><line x1="1073" y1="1446" x2="1079" y2="1446"/><line x1="1073" y1="1391.4" x2="1079" y2="1391.4"/><line x1="1073" y1="1336.8" x2="1079" y2="1336.8"/><line x1="1073" y1="1282.2" x2="1079" y2="1282.2"/><line x1="1073" y1="1227.6" x2="1079" y2="1227.6"/><line x1="1073" y1="1173" x2="1079" y2="1173"/><line x1="1073" y1="1118.4" x2="1079" y2="1118.4"/></g>
<line x1="1079" y1="1555.7" x2="1997.5" y2="1555.7" stroke="#1c3fb0" stroke-width="2"/>
<g stroke="#1c3fb0" stroke-width="1.5"><line x1="1079" y1="1555" x2="1079" y2="1561"/><line x1="1144.6" y1="1555" x2="1144.6" y2="1561"/><line x1="1210.2" y1="1555" x2="1210.2" y2="1561"/><line x1="1275.8" y1="1555" x2="1275.8" y2="1561"/><line x1="1341.4" y1="1555" x2="1341.4" y2="1561"/><line x1="1407" y1="1555" x2="1407" y2="1561"/><line x1="1472.6" y1="1555" x2="1472.6" y2="1561"/><line x1="1538.2" y1="1555" x2="1538.2" y2="1561"/><line x1="1603.8" y1="1555" x2="1603.8" y2="1561"/><line x1="1669.4" y1="1555" x2="1669.4" y2="1561"/><line x1="1735" y1="1555" x2="1735" y2="1561"/><line x1="1800.6" y1="1555" x2="1800.6" y2="1561"/><line x1="1866.2" y1="1555" x2="1866.2" y2="1561"/><line x1="1931.8" y1="1555" x2="1931.8" y2="1561"/><line x1="1997.4" y1="1555" x2="1997.4" y2="1561"/></g>
<text class="tk" x="1069" y="1560.7">0</text><text class="tk" x="1069" y="1506.1">5</text><text class="tk" x="1069" y="1451.5">10</text><text class="tk" x="1069" y="1396.9">15</text><text class="tk" x="1069" y="1342.3">20</text><text class="tk" x="1069" y="1287.7">25</text><text class="tk" x="1069" y="1233.1">30</text><text class="tk" x="1069" y="1178.5">35</text><text class="tk" x="1069" y="1123.9">40</text>
<text class="yt" transform="translate(1036,1321) rotate(-90)">P Mehl (mg/dm<tspan font-size="11" dy="-7">3</tspan><tspan dy="7">)</tspan></text>
<g transform="translate(1095.6,1555.2)">
<g><g transform="scale(1,-10.92)"><rect class="b" width="15" height="14.7"/><rect class="y" x="18.5" width="14.5" height="30.77"/></g><text class="v" transform="translate(13,0) scale(1,-10.92) translate(0,14.7) scale(1,-0.091575) rotate(-90)" x="7">14,7 a</text><text class="v" transform="translate(31.25,0) scale(1,-10.92) translate(0,30.77) scale(1,-0.091575) rotate(-90)" x="7">30,77 a</text><text class="xl" x="16.75" y="24.8">0,0</text></g>
<g transform="translate(65.6,0)"><g transform="scale(1,-10.92)"><rect class="b" width="15" height="20.5"/><rect class="y" x="18.5" width="14.5" height="20.87"/></g><text class="v" transform="translate(13,0) scale(1,-10.92) translate(0,20.5) scale(1,-0.091575) rotate(-90)" x="7">20,5 a</text><text class="v" transform="translate(31.25,0) scale(1,-10.92) translate(0,20.87) scale(1,-0.091575) rotate(-90)" x="7">20,87 a</text><text class="xl" x="16.75" y="24.8">10,6</text></g>
<g transform="translate(131.2,0)"><g transform="scale(1,-10.92)"><rect class="b" width="15" height="22.5"/><rect class="y" x="18.5" width="14.5" height="21.84"/></g><text class="v" transform="translate(13,0) scale(1,-10.92) translate(0,22.5) scale(1,-0.091575) rotate(-90)" x="7">22,5 a</text><text class="v" transform="translate(31.25,0) scale(1,-10.92) translate(0,21.84) scale(1,-0.091575) rotate(-90)" x="7">21,84 a</text><text class="xl" x="16.75" y="24.8">5,9</text></g>
<g transform="translate(196.8,0)"><g transform="scale(1,-10.92)"><rect class="b" width="15" height="24.3"/><rect class="y" x="18.5" width="14.5" height="18.45"/></g><text class="v" transform="translate(13,0) scale(1,-10.92) translate(0,24.3) scale(1,-0.091575) rotate(-90)" x="7">24,3 a</text><text class="v" transform="translate(31.25,0) scale(1,-10.92) translate(0,18.45) scale(1,-0.091575) rotate(-90)" x="7">18,45 a</text><text class="xl" x="16.75" y="24.8">3,6</text></g>
<g transform="translate(262.4,0)"><g transform="scale(1,-10.92)"><rect class="b" width="15" height="18.3"/><rect class="y" x="18.5" width="14.5" height="19.10"/></g><text class="v" transform="translate(13,0) scale(1,-10.92) translate(0,18.3) scale(1,-0.091575) rotate(-90)" x="7">18,3 a</text><text class="v" transform="translate(31.25,0) scale(1,-10.92) translate(0,19.10) scale(1,-0.091575) rotate(-90)" x="7">19,10 a</text><text class="xl" x="16.75" y="24.8">5,3</text></g>
<g transform="translate(328,0)"><g transform="scale(1,-10.92)"><rect class="b" width="15" height="23.4"/><rect class="y" x="18.5" width="14.5" height="19.31"/></g><text class="v" transform="translate(13,0) scale(1,-10.92) translate(0,23.4) scale(1,-0.091575) rotate(-90)" x="7">23,4 a</text><text class="v" transform="translate(31.25,0) scale(1,-10.92) translate(0,19.31) scale(1,-0.091575) rotate(-90)" x="7">19,31 a</text><text class="xl" x="16.75" y="24.8">7,6</text></g>
<g transform="translate(393.6,0)"><g transform="scale(1,-10.92)"><rect class="b" width="15" height="22.9"/><rect class="y" x="18.5" width="14.5" height="22.10"/></g><text class="v" transform="translate(13,0) scale(1,-10.92) translate(0,22.9) scale(1,-0.091575) rotate(-90)" x="7">22,9 a</text><text class="v" transform="translate(31.25,0) scale(1,-10.92) translate(0,22.10) scale(1,-0.091575) rotate(-90)" x="7">22,10 a</text><text class="xl" x="16.75" y="24.8">11,4</text></g>
<g transform="translate(459.2,0)"><g transform="scale(1,-10.92)"><rect class="b" width="15" height="18.5"/><rect class="y" x="18.5" width="14.5" height="22.54"/></g><text class="v" transform="translate(13,0) scale(1,-10.92) translate(0,18.5) scale(1,-0.091575) rotate(-90)" x="7">18,5 a</text><text class="v" transform="translate(31.25,0) scale(1,-10.92) translate(0,22.54) scale(1,-0.091575) rotate(-90)" x="7">22,54 a</text><text class="xl" x="16.75" y="24.8">8,5</text></g>
<g transform="translate(524.8,0)"><g transform="scale(1,-10.92)"><rect class="b" width="15" height="22.0"/><rect class="y" x="18.5" width="14.5" height="29.01"/></g><text class="v" transform="translate(13,0) scale(1,-10.92) translate(0,22.0) scale(1,-0.091575) rotate(-90)" x="7">22,0 a</text><text class="v" transform="translate(31.25,0) scale(1,-10.92) translate(0,29.01) scale(1,-0.091575) rotate(-90)" x="7">29,01 a</text><text class="xl" x="16.75" y="24.8">5,3</text></g>
<g transform="translate(590.4,0)"><g transform="scale(1,-10.92)"><rect class="b" width="15" height="26.3"/><rect class="y" x="18.5" width="14.5" height="25.51"/></g><text class="v" transform="translate(13,0) scale(1,-10.92) translate(0,26.3) scale(1,-0.091575) rotate(-90)" x="7">26,3 a</text><text class="v" transform="translate(31.25,0) scale(1,-10.92) translate(0,25.51) scale(1,-0.091575) rotate(-90)" x="7">25,51 a</text><text class="xl" x="16.75" y="24.8">6,9</text></g>
<g transform="translate(656,0)"><g transform="scale(1,-10.92)"><rect class="b" width="15" height="20.2"/><rect class="y" x="18.5" width="14.5" height="35.46"/></g><text class="v" transform="translate(13,0) scale(1,-10.92) translate(0,20.2) scale(1,-0.091575) rotate(-90)" x="7">20,2 a</text><text class="v" transform="translate(31.25,0) scale(1,-10.92) translate(0,35.46) scale(1,-0.091575) rotate(-90)" x="7">35,46 a</text><text class="xl" x="16.75" y="24.8">12,3</text></g>
<g transform="translate(721.6,0)"><g transform="scale(1,-10.92)"><rect class="b" width="15" height="25.7"/><rect class="y" x="18.5" width="14.5" height="34.61"/></g><text class="v" transform="translate(13,0) scale(1,-10.92) translate(0,25.7) scale(1,-0.091575) rotate(-90)" x="7">25,7 a</text><text class="v" transform="translate(31.25,0) scale(1,-10.92) translate(0,34.61) scale(1,-0.091575) rotate(-90)" x="7">34,61 a</text><text class="xl" x="16.75" y="24.8">11,4</text></g>
<g transform="translate(787.2,0)"><g transform="scale(1,-10.92)"><rect class="b" width="15" height="17.5"/><rect class="y" x="18.5" width="14.5" height="21.31"/></g><text class="v" transform="translate(13,0) scale(1,-10.92) translate(0,17.5) scale(1,-0.091575) rotate(-90)" x="7">17,5 a</text><text class="v" transform="translate(31.25,0) scale(1,-10.92) translate(0,21.31) scale(1,-0.091575) rotate(-90)" x="7">21,31 a</text><text class="xl" x="16.75" y="24.8">11,4</text></g>
<g transform="translate(852.8,0)"><g transform="scale(1,-10.92)"><rect class="b" width="15" height="21.3"/><rect class="y" x="18.5" width="14.5" height="24.6"/></g><text class="v" transform="translate(13,0) scale(1,-10.92) translate(0,21.3) scale(1,-0.091575) rotate(-90)" x="7">21,3 A</text><text class="v" transform="translate(31.25,0) scale(1,-10.92) translate(0,24.6) scale(1,-0.091575) rotate(-90)" x="7">24,6 A</text><text class="xl" x="16.75" y="24.8">MD.G.</text></g>
</g>
<text class="at" x="1445.5" y="1608" textLength="195" lengthAdjust="spacingAndGlyphs">Doses de calcário (t/ha)</text>
<rect class="box" x="1080" y="1112.5" width="227" height="38"/>
<text class="tt" x="1090" y="1139">F (0-5 cm x 0-20 cm)</text>
<rect class="box" x="1377" y="1128" width="243" height="72"/>
<rect class="b" x="1410" y="1141" width="8" height="9"/><text class="lg" x="1422" y="1150" textLength="170" lengthAdjust="spacingAndGlyphs">P-H. ROSCA (0-20 cm)</text>
<rect class="y" x="1410" y="1177.5" width="8" height="9"/><text class="lg" x="1422" y="1186.5" textLength="136" lengthAdjust="spacingAndGlyphs">P-TRINC  (0-5 cm)</text>

<!-- ================= CAPTION ================= -->
<text class="cap" x="43" y="1663" textLength="1970" lengthAdjust="spacingAndGlyphs">Figura 2. Índices de fertilidade do solo para fósforo (A), potássio (B), saturação por bases (C), cálcio (D), magnésio (E) e fósforo para diferentes camadas (F) em</text>
<text class="cap" x="43" y="1714" textLength="1970" lengthAdjust="spacingAndGlyphs">relação a amostragem de solo pelo método da trincheira (TRI) e haste de rosca (HR) após o cultivo do milho safrinha em um experimento de calagem, com</text>
<text class="cap" x="43" y="1765" textLength="1967" lengthAdjust="spacingAndGlyphs">adubação a lanço em área total no sistema plantio direto, em julho de 2022. Médias seguidas por uma mesma letra, em cada tratamento (doses de calcário),</text>
<text class="cap" x="43" y="1815" textLength="1970" lengthAdjust="spacingAndGlyphs">para cada variável, não diferem estatisticamente entre si (Scott Knott, p &gt; 0,05). Obs: gráfico F comparou-se o teor de P no solo para o método da trincheira de</text>
<text class="cap" x="43" y="1866" textLength="557" lengthAdjust="spacingAndGlyphs">0-5 cm versus a haste de rosca para 0-20 cm.</text>
</svg>
</body></html>
